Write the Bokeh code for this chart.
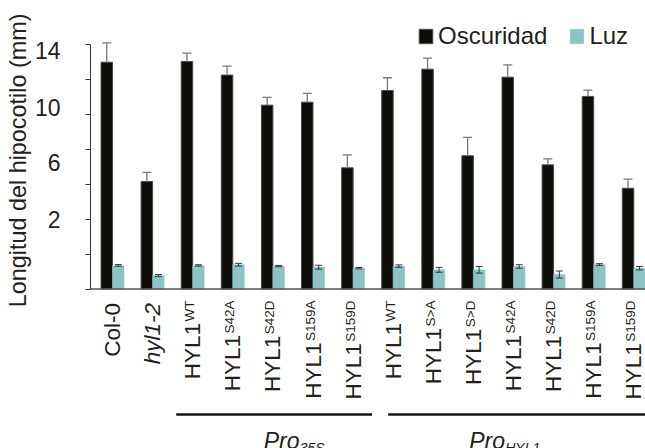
import numpy as np
from bokeh.plotting import figure
from bokeh.models import (ColumnDataSource, Range1d, FixedTicker, Legend,
                          LegendItem, Span, Title)
from bokeh.core.properties import value
from bokeh.embed import file_html
from bokeh.resources import INLINE

# ---------------- data ----------------
label_main = ["Col-0", "hyl1-2"] + ["HYL1"] * 12
label_sup = ["", "", "WT", "S42A", "S42D", "S159A", "S159D",
             "WT", "S>A", "S>D", "S42A", "S42D", "S159A", "S159D"]
label_style = ["normal", "italic"] + ["normal"] * 12
dark = [12.99, 6.16, 13.03, 12.25, 10.53, 10.70, 6.94,
        11.37, 12.59, 7.63, 12.13, 7.11, 11.03, 5.77]
dark_err = [1.11, 0.52, 0.48, 0.52, 0.44, 0.50, 0.74,
            0.73, 0.63, 1.05, 0.71, 0.34, 0.36, 0.52]
light = [1.35, 0.77, 1.35, 1.39, 1.31, 1.25, 1.19,
         1.31, 1.10, 1.10, 1.29, 0.83, 1.40, 1.19]
light_err = [0.05, 0.06, 0.04, 0.08, 0.04, 0.11, 0.04,
             0.07, 0.14, 0.19, 0.10, 0.20, 0.05, 0.10]
series_names = ["Oscuridad", "Luz"]
y_title = "Longitud del hipocotilo (mm)"
y_tick_marks = [0, 2, 4, 6, 8, 10, 12, 14]
y_tick_labels = ["2", "6", "10", "14"]
y_tick_label_at = [3.98, 7.25, 10.40, 13.66]
promoter_main = ["Pro", "Pro"]
promoter_sub = ["35S", "HYL1"]
promoter_first = [3, 8]
promoter_last = [7, 14]

# ---------------- layout constants ----------------
W, H = 645, 448
LEFT = 90
PX_X = 40.1          # pixels per group
PX_Y = 17.46         # pixels per mm
ZERO_Y = 288.5       # canvas y of value 0
X0 = 1 - 22 / PX_X
X1 = X0 + (W - LEFT) / PX_X
Y1 = ZERO_Y / PX_Y
Y0 = -(H - ZERO_Y) / PX_Y

def dy(px):  # pixel distance -> data units (y)
    return px / PX_Y

def dx(px):
    return px / PX_X

def ycanvas(py):
    return (ZERO_Y - py) / PX_Y

FNAME = "Liberation Sans"
FONT = value(FNAME)
TXT = "#231f20"
DARK = "#0d0d0a"
LIGHT = "#8cc3c5"

xs = np.arange(1, len(dark) + 1, dtype=float)
bw = dx(11.5)
xd = xs - bw / 2
xl = xs + bw / 2

p = figure(width=W, height=H, x_range=Range1d(X0, X1), y_range=Range1d(Y0, Y1),
           x_axis_type=None, output_backend="svg", toolbar_location=None,
           title=None, min_border_left=LEFT, min_border_right=0,
           min_border_top=0, min_border_bottom=0)
p.outline_line_color = None
p.ygrid.visible = False
p.background_fill_color = "white"

# bars
r_dark = p.vbar(x=xd, top=dark, bottom=0, width=bw, fill_color=DARK,
                line_color="#4a4a48", line_width=1)
r_light = p.vbar(x=xl, top=light, bottom=0, width=bw, fill_color=LIGHT,
                 line_color=LIGHT, line_width=0.5)

# dark error bars (upper only)
d_top = np.array(dark) + np.array(dark_err)
p.segment(x0=xd, y0=dark, x1=xd, y1=d_top, line_color="#7a7a7a", line_width=1.3)
p.segment(x0=xd - dx(4.5), y0=d_top, x1=xd + dx(4.5), y1=d_top,
          line_color="#7a7a7a", line_width=1.3)

# light error bars (both sides)
l_lo = np.array(light) - np.array(light_err)
l_hi = np.array(light) + np.array(light_err)
p.segment(x0=xl, y0=l_lo, x1=xl, y1=l_hi, line_color="#3a3a3a", line_width=1)
for yy in (l_lo, l_hi):
    p.segment(x0=xl - dx(3.5), y0=yy, x1=xl + dx(3.5), y1=yy,
              line_color="#3a3a3a", line_width=1)

# baseline
p.add_layout(Span(location=0, dimension="width", line_color="#555555",
                  line_width=1.5))

# y axis
ax = p.yaxis[0]
ax.bounds = (0, 14)
ax.ticker = FixedTicker(ticks=y_tick_label_at, minor_ticks=y_tick_marks)
ax.major_label_overrides = {v: t for v, t in zip(y_tick_label_at, y_tick_labels)}
ax.major_tick_line_color = None
ax.major_tick_out = 0
ax.major_tick_in = 0
ax.minor_tick_out = 5
ax.minor_tick_in = 0
ax.minor_tick_line_color = "#3a3a3a"
ax.minor_tick_line_width = 1
ax.axis_line_color = "#3a3a3a"
ax.axis_line_width = 1
ax.major_label_standoff = 25
ax.major_label_text_font = FNAME
ax.major_label_text_font_size = "23px"
ax.major_label_text_color = TXT

p.add_layout(Title(text=y_title, align="right", offset=13, standoff=2,
                   text_font=FNAME, text_font_size="23.4px",
                   text_font_style="normal", text_color=TXT), "left")

# category labels (rotated), with superscripts
CW = {"S": 0.667, "A": 0.667, "D": 0.722, "W": 0.944, "T": 0.611, ">": 0.584}
SUP_PX = 13.5
top_y = ycanvas(300)            # text end, just below the axis
main_y = []
for m, s in zip(label_main, label_sup):
    w = sum(CW.get(c, 0.556) for c in s) * SUP_PX
    main_y.append(top_y - dy(w + 1.5) if s else top_y - dy(2.5))
src_main = ColumnDataSource(dict(x=xs, y=main_y, text=label_main, style=label_style))
p.text(x="x", y="y", text="text", source=src_main, angle=np.pi / 2,
       text_align="right", text_baseline="middle", text_font=FONT,
       text_font_size=value("22.5px"), text_font_style="style", text_color=TXT)
src_sup = ColumnDataSource(dict(x=xs - dx(3), y=[top_y] * len(xs), text=label_sup))
p.text(x="x", y="y", text="text", source=src_sup, angle=np.pi / 2,
       text_align="right", text_baseline="middle", text_font=FONT,
       text_font_size=value("13.5px"), text_color=TXT)

# promoter brackets and labels
br_y = ycanvas(414)
br_x0 = [promoter_first[0] - dx(16.5), promoter_first[1] - dx(5)]
br_x1 = [promoter_last[0] + dx(19), promoter_last[1] + dx(40)]
p.segment(x0=br_x0, y0=[br_y] * 2, x1=br_x1, y1=[br_y] * 2,
          line_color="#151515", line_width=2.5)
pro_x = [promoter_first[0] + dx(71), promoter_first[1] + dx(76)]
pro_y = ycanvas(440)
p.text(x=pro_x, y=[pro_y] * 2, text=promoter_main, text_align="left",
       text_baseline="alphabetic", text_font=FONT, text_font_size=value("23px"),
       text_font_style="italic", text_color=TXT)
p.text(x=[v + dx(36) for v in pro_x], y=[pro_y - dy(7)] * 2, text=promoter_sub,
       text_align="left", text_baseline="alphabetic", text_font=FONT,
       text_font_size=value("14px"), text_font_style="italic", text_color=TXT)

# legend
legend = Legend(items=[LegendItem(label=series_names[0], renderers=[r_dark]),
                       LegendItem(label=series_names[1], renderers=[r_light])],
                location=(327, 398), orientation="horizontal", padding=0,
                margin=0, spacing=21, label_standoff=4, glyph_width=17,
                glyph_height=18, border_line_color=None,
                background_fill_alpha=0, label_text_font=FNAME,
                label_text_font_size="24px", label_text_color=TXT)
p.add_layout(legend)

open("out.html", "w").write(file_html(p, INLINE))
